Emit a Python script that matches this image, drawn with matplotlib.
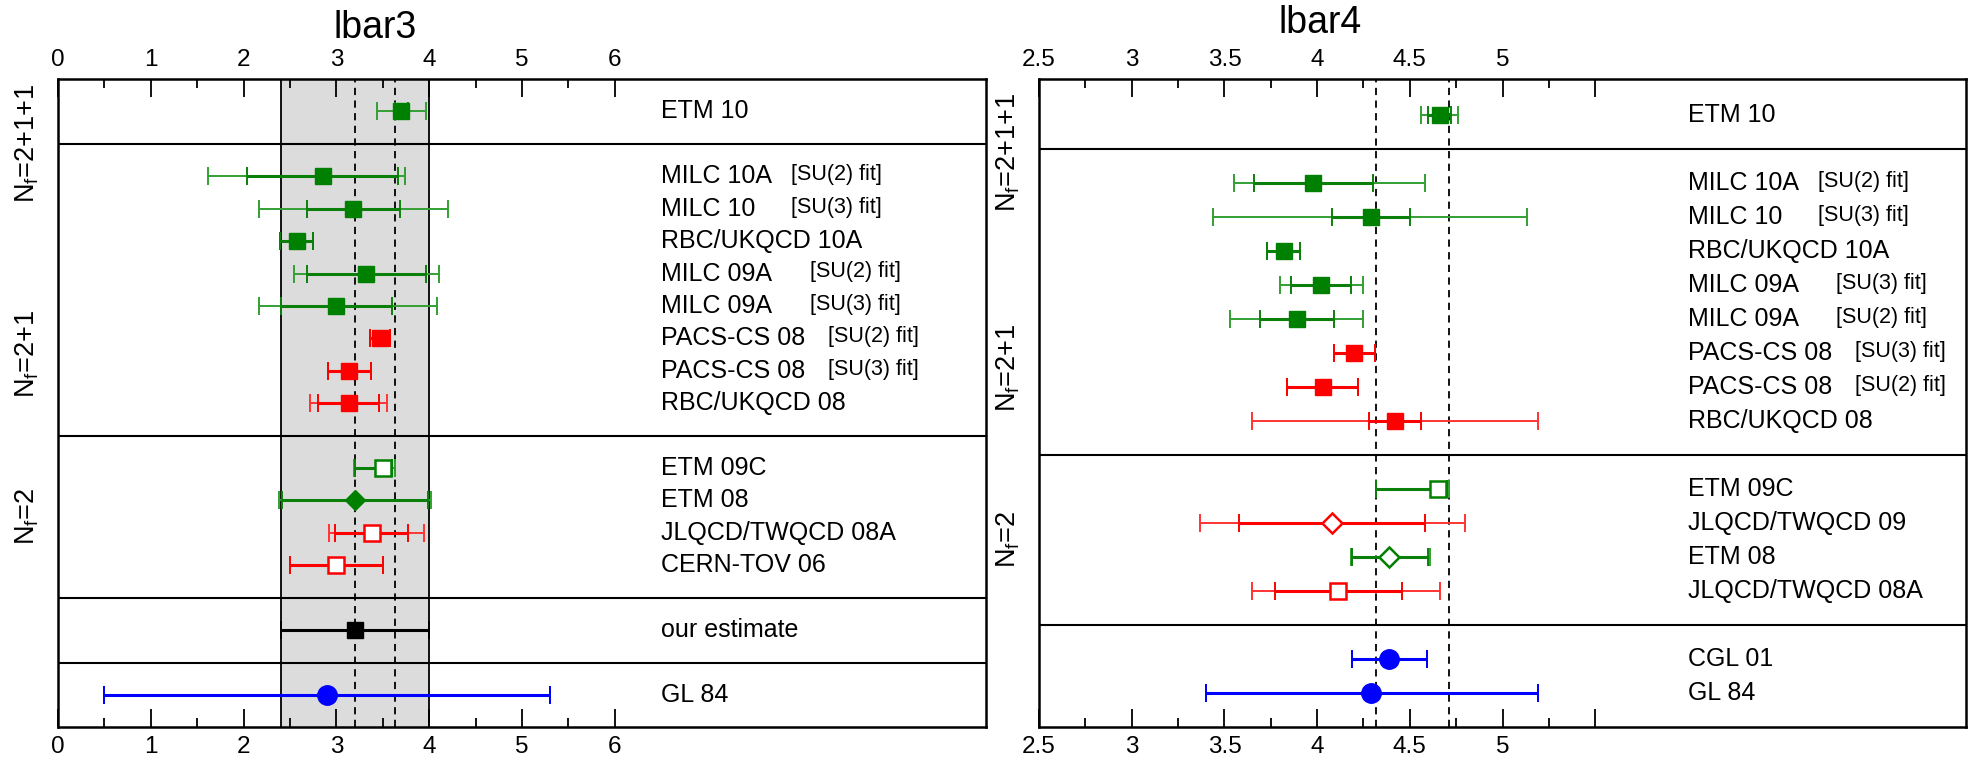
import matplotlib
matplotlib.use('Agg')
import matplotlib.pyplot as plt
import matplotlib.transforms as mtransforms

# フォントの設定
plt.rcParams['font.family'] = ['Liberation Sans', 'DejaVu Sans']
plt.rcParams['mathtext.fontset'] = 'custom'
plt.rcParams['mathtext.rm'] = 'Liberation Sans'
plt.rcParams['mathtext.it'] = 'Liberation Sans'
plt.rcParams['mathtext.bf'] = 'Liberation Sans:bold'

# ---- lbar3 data ----
groups3 = [1, 8, 4, 1, 1]
labels3 = ['ETM 10',
           'MILC 10A', 'MILC 10', 'RBC/UKQCD 10A', 'MILC 09A', 'MILC 09A',
           'PACS-CS 08', 'PACS-CS 08', 'RBC/UKQCD 08',
           'ETM 09C', 'ETM 08', 'JLQCD/TWQCD 08A', 'CERN-TOV 06',
           'our estimate',
           'GL 84']
fits3 = ['', '[SU(2) fit]', '[SU(3) fit]', '', '[SU(2) fit]', '[SU(3) fit]',
         '[SU(2) fit]', '[SU(3) fit]', '', '', '', '', '', '', '']
val3 = [3.70, 2.85, 3.18, 2.57, 3.32, 3.00, 3.47, 3.14, 3.13,
        3.50, 3.20, 3.38, 3.00, 3.20, 2.90]
in_lo3 = [0.07, 0.81, 0.50, 0.18, 0.64, 0.60, 0.11, 0.23, 0.33,
          0.30, 0.79, 0.40, 0.50, 0.80, 2.40]
in_hi3 = [0.07, 0.81, 0.50, 0.18, 0.64, 0.60, 0.11, 0.23, 0.33,
          0.10, 0.79, 0.39, 0.50, 0.80, 2.40]
out_lo3 = [0.26, 1.23, 1.02, 0.18, 0.78, 0.84, 0.11, 0.23, 0.41,
           0.31, 0.82, 0.46, 0.50, 0.80, 2.40]
out_hi3 = [0.27, 0.89, 1.02, 0.18, 0.79, 1.08, 0.11, 0.23, 0.41,
           0.13, 0.82, 0.56, 0.50, 0.80, 2.40]
col3 = ['g', 'g', 'g', 'g', 'g', 'g', 'r', 'r', 'r', 'g', 'g', 'r', 'r', 'k', 'b']
mk3 = ['s', 's', 's', 's', 's', 's', 's', 's', 's', 's', 'D', 's', 's', 's', 'o']
fill3 = [1, 1, 1, 1, 1, 1, 1, 1, 1, 0, 1, 0, 0, 1, 1]
band3 = (2.4, 4.0)
dash3 = [3.2, 3.63]

# ---- lbar4 data ----
groups4 = [1, 8, 4, 2]
labels4 = ['ETM 10',
           'MILC 10A', 'MILC 10', 'RBC/UKQCD 10A', 'MILC 09A', 'MILC 09A',
           'PACS-CS 08', 'PACS-CS 08', 'RBC/UKQCD 08',
           'ETM 09C', 'JLQCD/TWQCD 09', 'ETM 08', 'JLQCD/TWQCD 08A',
           'CGL 01', 'GL 84']
fits4 = ['', '[SU(2) fit]', '[SU(3) fit]', '', '[SU(3) fit]', '[SU(2) fit]',
         '[SU(3) fit]', '[SU(2) fit]', '', '', '', '', '', '', '']
val4 = [4.66, 3.98, 4.29, 3.82, 4.02, 3.89, 4.20, 4.03, 4.42,
        4.65, 4.08, 4.39, 4.11, 4.39, 4.29]
in_lo4 = [0.06, 0.32, 0.21, 0.09, 0.16, 0.20, 0.11, 0.19, 0.14,
          0.33, 0.50, 0.20, 0.34, 0.20, 0.89]
in_hi4 = [0.06, 0.32, 0.21, 0.09, 0.16, 0.20, 0.11, 0.19, 0.14,
          0.05, 0.50, 0.21, 0.35, 0.20, 0.90]
out_lo4 = [0.10, 0.43, 0.85, 0.09, 0.22, 0.36, 0.11, 0.19, 0.77,
           0.33, 0.71, 0.21, 0.46, 0.20, 0.89]
out_hi4 = [0.10, 0.60, 0.84, 0.09, 0.23, 0.36, 0.11, 0.19, 0.77,
           0.06, 0.72, 0.22, 0.55, 0.20, 0.90]
col4 = ['g', 'g', 'g', 'g', 'g', 'g', 'r', 'r', 'r', 'g', 'r', 'g', 'r', 'b', 'b']
mk4 = ['s', 's', 's', 's', 's', 's', 's', 's', 's', 's', 'D', 'D', 's', 'o', 'o']
fill4 = [1, 1, 1, 1, 1, 1, 1, 1, 1, 0, 0, 0, 0, 1, 1]
dash4 = [4.32, 4.71]

nf_labels3 = [r'$N_f$=2+1+1', r'$N_f$=2+1', r'$N_f$=2']
nf_labels4 = [r'$N_f$=2+1+1', r'$N_f$=2+1', r'$N_f$=2']

# 色
marker_col = {'g': '#008000', 'r': '#ff0000', 'b': '#0000ff', 'k': '#000000'}
inner_col = {'g': '#0a800a', 'r': '#ff0000', 'b': '#0000ff', 'k': '#000000'}
outer_col = {'g': '#33a033', 'r': '#ff3333', 'b': '#2020ff', 'k': '#000000'}
msize = {'s': 12, 'D': 10.5, 'o': 14}


def row_positions(groups):
    rows, seps = [], []
    y = 1
    for n in groups:
        for i in range(n):
            rows.append(y)
            y += 1
        seps.append(y)
        y += 1
    return rows, seps[:-1]


def draw_panel(ax, groups, labels, fits, val, ilo, ihi, olo, ohi, col, mk, fill,
               text_x, fit_dx):
    rows, seps = row_positions(groups)
    for s in seps:
        ax.axhline(s, color='black', lw=1.5, zorder=2)
    for i in range(len(val)):
        c = col[i]
        ax.errorbar(val[i], rows[i], xerr=[[olo[i]], [ohi[i]]], fmt='none',
                    ecolor=outer_col[c], elinewidth=1.4, capsize=6.5,
                    capthick=1.4, zorder=3)
        ax.errorbar(val[i], rows[i], xerr=[[ilo[i]], [ihi[i]]], fmt='none',
                    ecolor=inner_col[c], elinewidth=2.2, capsize=6.5,
                    capthick=1.4, zorder=3)
        face = marker_col[c] if fill[i] else 'white'
        ax.plot(val[i], rows[i], marker=mk[i], ms=msize[mk[i]], mfc=face,
                mec=marker_col[c], mew=1.8 if not fill[i] else 1.0,
                ls='none', zorder=4)
        ax.text(text_x, rows[i], labels[i], fontsize=18, va='center', ha='left')
        if fits[i]:
            off = {'MILC 10A': 0, 'MILC 10': 0, 'MILC 09A': 1, 'PACS-CS 08': 2}[labels[i]]
            ax.text(text_x + fit_dx[off], rows[i] - 0.05, fits[i], fontsize=15.5,
                    va='center', ha='left')
    return rows, seps


def style_axes(ax, xlim, ylim, major, minor, ticklabels):
    ax.set_xlim(*xlim)
    ax.set_ylim(*ylim)
    ax.set_xticks(major)
    ax.set_xticklabels(ticklabels)
    ax.set_xticks(minor, minor=True)
    ax.set_yticks([])
    ax.tick_params(axis='x', which='both', direction='in', top=True, bottom=True,
                   labeltop=True, labelbottom=True, labelsize=17.5, pad=6, width=1.3)
    ax.tick_params(axis='x', which='major', length=13)
    ax.tick_params(axis='x', which='minor', length=6.5)
    for sp in ax.spines.values():
        sp.set_linewidth(1.8)


fig = plt.figure(figsize=(19.69, 7.6), dpi=100)
ax3 = fig.add_axes([0.0295, 0.0428, 0.4713, 0.8533])
ax4 = fig.add_axes([0.5277, 0.0428, 0.4708, 0.8533])

# lbar3
ax3.axvspan(band3[0], band3[1], color='#dcdcdc', zorder=0, lw=0)
for b in band3:
    ax3.axvline(b, color='black', lw=1.3, zorder=1)
for d in dash3:
    ax3.axvline(d, color='black', lw=1.3, ls=(0, (4, 3)), zorder=1)
draw_panel(ax3, groups3, labels3, fits3, val3, in_lo3, in_hi3, out_lo3, out_hi3,
           col3, mk3, fill3, 6.5, [1.4, 1.6, 1.8])
style_axes(ax3, (0, 10), (20, 0), [0, 1, 2, 3, 4, 5, 6],
           [0.5, 1.5, 2.5, 3.5, 4.5, 5.5], ['0', '1', '2', '3', '4', '5', '6'])

# lbar4
for d in dash4:
    ax4.axvline(d, color='black', lw=1.3, ls=(0, (4, 3)), zorder=1)
draw_panel(ax4, groups4, labels4, fits4, val4, in_lo4, in_hi4, out_lo4, out_hi4,
           col4, mk4, fill4, 6.0, [0.7, 0.8, 0.9])
style_axes(ax4, (2.5, 7.5), (19, -0.06), [2.5, 3, 3.5, 4, 4.5, 5, 5.5],
           [2.75, 3.25, 3.75, 4.25, 4.75, 5.25],
           ['2.5', '3', '3.5', '4', '4.5', '5', ''])

# N_f ラベル
tr3 = mtransforms.blended_transform_factory(ax3.transAxes, ax3.transData)
for lab, y in zip(nf_labels3, [2.0, 8.47, 13.48]):
    ax3.text(-0.0334, y, lab, transform=tr3, rotation=90, fontsize=19.5,
             ha='center', va='center', clip_on=False)
tr4 = mtransforms.blended_transform_factory(ax4.transAxes, ax4.transData)
for lab, y in zip(nf_labels4, [2.09, 8.44, 13.46]):
    ax4.text(-0.0334, y, lab, transform=tr4, rotation=90, fontsize=19.5,
             ha='center', va='center', clip_on=False)

# タイトル
fig.text(375 / 1969, 1 - 38 / 760, 'lbar3', fontsize=27, ha='center', va='baseline')
fig.text(1320 / 1969, 1 - 33 / 760, 'lbar4', fontsize=27, ha='center', va='baseline')

fig.savefig('out.png', dpi=100)
